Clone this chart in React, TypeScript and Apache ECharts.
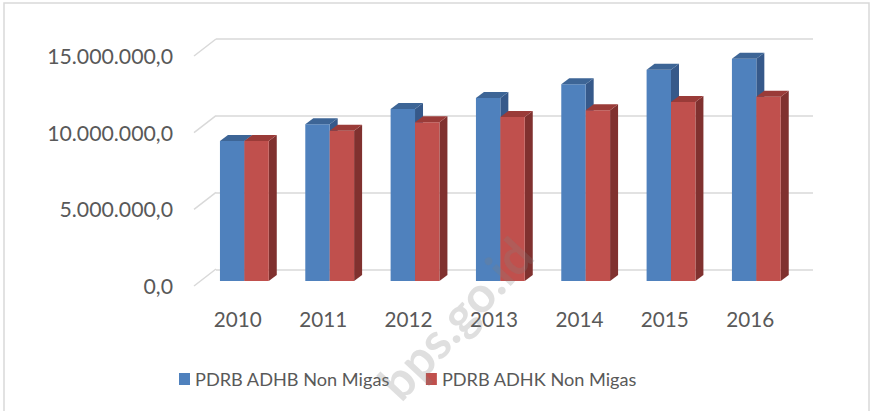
import React, { useEffect, useRef } from "react";
import * as echarts from "echarts";

const years = ["2010", "2011", "2012", "2013", "2014", "2015", "2016"];
const adhb = [9130000, 10220000, 11220000, 11930000, 12830000, 13780000, 14500000];
const adhk = [9130000, 9800000, 10350000, 10700000, 11130000, 11670000, 12020000];
const yTicks = [0, 5000000, 10000000, 15000000];
const seriesNames = ["PDRB ADHB Non Migas", "PDRB ADHK Non Migas"];

const FONT = "Lato, 'Open Sans', sans-serif";
const TEXT = "#595959";
const GRID = "#D9D9D9";

const fmt = (v: number) => {
  const s = Math.round(v).toString().replace(/\B(?=(\d{3})+(?!\d))/g, ".");
  return s + ",0";
};

const palette = [
  { front: "#4F81BD", top: "#3D6596", side: "#36598A" },
  { front: "#C0504D", top: "#9A3B38", side: "#80312F" },
];

const DX = 8;
const DY = -6;

function fitFont(text: string, target: number, fallback: number) {
  try {
    const ctx = document.createElement("canvas").getContext("2d");
    if (!ctx) return fallback;
    ctx.font = `20px ${FONT}`;
    const w = ctx.measureText(text).width;
    if (!w) return fallback;
    const s = (20 * target) / w;
    return Math.max(15, Math.min(23, s));
  } catch (e) {
    return fallback;
  }
}

function makeBarRender(seriesIdx: number) {
  return (params: any, api: any) => {
    const i = api.value(0);
    const v = api.value(1);
    const base = api.coord([i, 0]);
    const topPt = api.coord([i, v]);
    const band = api.size([1, 0])[0];
    const w = band * 0.286;
    const cx = base[0];
    const x0 = seriesIdx === 0 ? cx - w : cx;
    const x1 = x0 + w;
    const y0 = base[1];
    const y1 = topPt[1];
    const c = palette[seriesIdx];
    return {
      type: "group",
      children: [
        {
          type: "polygon",
          shape: { points: [[x1, y1], [x1 + DX, y1 + DY], [x1 + DX, y0 + DY], [x1, y0]] },
          style: { fill: c.side },
        },
        {
          type: "rect",
          shape: { x: x0, y: y1, width: w, height: y0 - y1 },
          style: { fill: c.front },
        },
        {
          type: "polygon",
          shape: { points: [[x0, y1], [x1, y1], [x1 + DX, y1 + DY], [x0 + DX, y1 + DY]] },
          style: { fill: c.top },
        },
      ],
    };
  };
}

export default function App() {
  const ref = useRef<HTMLDivElement>(null);
  useEffect(() => {
    document.body.style.margin = "0";
    if (!ref.current) return;
    const yFont = fitFont("15.000.000,0", 126, 19);
    const xFont = fitFont("2010", 48, 21);
    const legFont = fitFont("PDRB ADHB Non Migas", 195, 19);
    const chart = echarts.init(ref.current, null, { renderer: "svg" });
    const yAxisBase = { type: "value", min: 0, max: 15000000, interval: 5000000 };
    chart.setOption({
      animation: false,
      backgroundColor: "#FFFFFF",
      textStyle: { fontFamily: FONT },
      grid: [
        { left: 216, right: 59, top: 39, bottom: 141 },
        { left: 195, right: 79, top: 56, bottom: 125 },
        { left: 201.7, right: 73, top: 51, bottom: 130 },
      ],
      xAxis: [
        { type: "category", data: years, gridIndex: 0, show: false },
        {
          type: "category",
          data: years,
          gridIndex: 1,
          axisLine: { show: false },
          axisTick: { show: false },
          axisLabel: { color: TEXT, fontSize: xFont, fontFamily: FONT, margin: 22 },
        },
        { type: "category", data: years, gridIndex: 2, show: false },
      ],
      yAxis: [
        {
          ...yAxisBase,
          gridIndex: 0,
          axisLine: { show: false },
          axisTick: { show: false },
          axisLabel: { show: false },
          splitLine: { show: true, lineStyle: { color: GRID, width: 1.5 } },
        },
        {
          ...yAxisBase,
          gridIndex: 1,
          axisLine: { show: false },
          axisTick: { show: false },
          splitLine: { show: false },
          axisLabel: { color: TEXT, fontSize: yFont, fontFamily: FONT, margin: 22, formatter: (v: number) => fmt(v) },
        },
        { ...yAxisBase, gridIndex: 2, show: false },
      ],
      legend: {
        left: 174,
        top: 365,
        itemWidth: 11,
        itemHeight: 12,
        itemGap: 36,
        icon: "rect",
        textStyle: { color: TEXT, fontSize: legFont, fontFamily: FONT },
        data: seriesNames,
      },
      series: [
        {
          type: "custom",
          name: "diag",
          xAxisIndex: 1,
          yAxisIndex: 1,
          silent: true,
          data: yTicks.map((t) => [0, t]),
          renderItem: (params: any, api: any) => {
            const p = api.coord([0, api.value(1)]);
            const x = params.coordSys.x - 1;
            return {
              type: "line",
              shape: { x1: x, y1: p[1], x2: x + 22, y2: p[1] - 17 },
              style: { stroke: GRID, lineWidth: 1.5 },
            };
          },
        },
        {
          type: "custom",
          name: seriesNames[0],
          xAxisIndex: 2,
          yAxisIndex: 2,
          itemStyle: { color: palette[0].front },
          data: adhb.map((v, i) => [i, v]),
          renderItem: makeBarRender(0),
        },
        {
          type: "custom",
          name: seriesNames[1],
          xAxisIndex: 2,
          yAxisIndex: 2,
          itemStyle: { color: palette[1].front },
          data: adhk.map((v, i) => [i, v]),
          renderItem: makeBarRender(1),
        },
      ],
      graphic: [
        {
          type: "rect",
          z: 0,
          shape: { x: 4, y: 3, width: 865, height: 420 },
          style: { fill: "none", stroke: GRID, lineWidth: 1.5 },
          silent: true,
        },
        {
          type: "text",
          z: 100,
          x: 455,
          y: 318,
          rotation: (47 * Math.PI) / 180,
          silent: true,
          style: {
            text: "bps.go.id",
            fontSize: 50,
            fontWeight: "bold",
            fontFamily: FONT,
            fill: "rgba(128,128,128,0.25)",
            textAlign: "center",
            textVerticalAlign: "middle",
          },
        },
      ],
    });
    return () => chart.dispose();
  }, []);
  return <div ref={ref} style={{ width: 872, height: 411 }} />;
}
